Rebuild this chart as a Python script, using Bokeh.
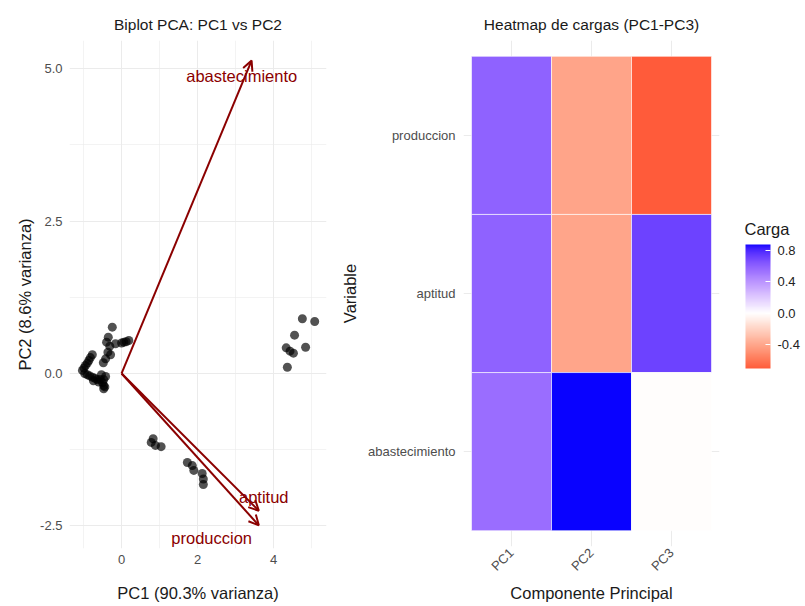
import math
from bokeh.plotting import figure
from bokeh.models import (ColumnDataSource, Arrow, OpenHead, FixedTicker, LinearColorMapper,
                          ColorBar, Range1d, FactorRange, PrintfTickFormatter)
from bokeh.layouts import row
from bokeh.embed import file_html
from bokeh.resources import INLINE
from bokeh.core.properties import value

# ---------------- data ----------------
score_pc1 = [-0.245, -0.35, -0.395, -0.31, -0.36, -0.29, -0.42, -0.48, -0.16, 0.06, 0.19,
             -0.77, -0.86, -0.95, -1.03, -0.90, -0.77, -0.64, -0.47, -0.47, -0.42,
             -0.82, -0.90, -0.99, -0.97, -0.84, -0.70, -0.56, -0.50, -0.44, -0.53, -0.47,
             0.12, 0.00, -0.74, -0.60,
             0.83, 0.78, 0.89, 1.04,
             1.73, 1.86, 1.90, 2.12, 2.15, 2.15,
             4.755, 5.08, 4.55, 4.84, 4.33, 4.43, 4.52, 4.36]
score_pc2 = [0.76, 0.595, 0.513, 0.448, 0.35, 0.307, 0.24, 0.175, 0.487, 0.513, 0.54,
             0.307, 0.213, 0.131, 0.05, -0.02, -0.06, -0.10, -0.10, -0.20, -0.05,
             0.26, 0.17, 0.09, 0.00, -0.04, -0.08, -0.10, -0.15, -0.22, -0.02, -0.25,
             0.52, 0.50, -0.12, -0.14,
             -1.07, -1.13, -1.18, -1.20,
             -1.46, -1.51, -1.59, -1.64, -1.73, -1.82,
             0.897, 0.852, 0.628, 0.43, 0.42, 0.366, 0.333, 0.103]

variables = ["produccion", "aptitud", "abastecimiento"]
arrow_pc1 = [3.61, 3.61, 3.42]
arrow_pc2 = [-2.49, -2.25, 5.13]
label_pc1 = [2.37, 3.74, 3.16]
label_pc2 = [-2.70, -2.03, 4.87]

components = ["PC1", "PC2", "PC3"]
loadings_pc1 = [0.59, 0.59, 0.55]
loadings_pc2 = [-0.41, -0.40, 0.87]
loadings_pc3 = [-0.70, 0.71, -0.01]

x_ticks = [0, 2, 4]
x_minor = [-1, 1, 3, 5]
y_ticks = [-2.5, 0.0, 2.5, 5.0]
y_minor = [-1.25, 1.25, 3.75]
legend_ticks = [-0.4, 0.0, 0.4, 0.8]
legend_title = "Carga"

FONT = "Liberation Sans"
GRID = "#EBEBEB"
TICK_C = "#4D4D4D"

# ---------------- colour helpers (ggplot gradient2 in Lab) ----------------
def hex_to_lab(h):
    r, g, b = [int(h[i:i + 2], 16) / 255 for i in (1, 3, 5)]
    lin = lambda c: c / 12.92 if c <= 0.04045 else ((c + 0.055) / 1.055) ** 2.4
    r, g, b = lin(r), lin(g), lin(b)
    X = 0.4124564 * r + 0.3575761 * g + 0.1804375 * b
    Y = 0.2126729 * r + 0.7151522 * g + 0.0721750 * b
    Z = 0.0193339 * r + 0.1191920 * g + 0.9503041 * b
    f = lambda t: t ** (1 / 3) if t > 216 / 24389 else (24389 / 27 * t + 16) / 116
    fx, fy, fz = f(X / 0.95047), f(Y), f(Z / 1.08883)
    return (116 * fy - 16, 500 * (fx - fy), 200 * (fy - fz))

def lab_to_hex(L, a, b):
    fy = (L + 16) / 116
    fx = fy + a / 500
    fz = fy - b / 200
    finv = lambda t: t ** 3 if t ** 3 > 216 / 24389 else (116 * t - 16) / (24389 / 27)
    X, Y, Z = finv(fx) * 0.95047, finv(fy), finv(fz) * 1.08883
    r = 3.2404542 * X - 1.5371385 * Y - 0.4985314 * Z
    g = -0.9692660 * X + 1.8760108 * Y + 0.0415560 * Z
    bb = 0.0556434 * X - 0.2040259 * Y + 1.0572252 * Z
    def gam(c):
        c = max(0.0, min(1.0, c))
        return 12.92 * c if c <= 0.0031308 else 1.055 * c ** (1 / 2.4) - 0.055
    return "#%02x%02x%02x" % tuple(int(round(gam(c) * 255)) for c in (r, g, bb))

low_lab, mid_lab, high_lab = hex_to_lab("#FF0000"), hex_to_lab("#FFFFFF"), hex_to_lab("#0000FF")
all_vals = loadings_pc1 + loadings_pc2 + loadings_pc3
vmin, vmax = min(all_vals), max(all_vals)
m = max(abs(vmin), abs(vmax))
N = 256
palette = []
for i in range(N):
    v = vmin + (vmax - vmin) * (i + 0.5) / N
    t = 0.5 + v / (2 * m)
    if t < 0.5:
        s = t / 0.5
        c = [low_lab[k] + (mid_lab[k] - low_lab[k]) * s for k in range(3)]
    else:
        s = (t - 0.5) / 0.5
        c = [mid_lab[k] + (high_lab[k] - mid_lab[k]) * s for k in range(3)]
    palette.append(lab_to_hex(*c))
mapper = LinearColorMapper(palette=palette, low=vmin, high=vmax)


def style(p):
    p.outline_line_color = None
    p.background_fill_color = "white"
    p.border_fill_color = "white"
    p.title.align = "center"
    p.title.text_font = FONT
    p.title.text_font_size = "15.5px"
    p.title.text_font_style = "normal"
    p.title.text_color = "#1A1A1A"
    p.title.standoff = 16
    for ax in p.axis:
        ax.axis_line_color = None
        ax.major_tick_line_color = None
        ax.minor_tick_line_color = None
        ax.major_tick_out = 0
        ax.major_tick_in = 0
        ax.minor_tick_out = 0
        ax.minor_tick_in = 0
        ax.major_label_text_font = FONT
        ax.major_label_text_font_size = "13px"
        ax.major_label_text_color = TICK_C
        ax.axis_label_text_font = FONT
        ax.axis_label_text_font_size = "16.5px"
        ax.axis_label_text_font_style = "normal"
        ax.axis_label_text_color = "#1A1A1A"
    for g in p.grid:
        g.grid_line_color = GRID
        g.grid_line_width = 1


# ---------------- left: biplot ----------------
p1 = figure(frame_width=257, frame_height=508,
            x_range=Range1d(-1.37, 5.39), y_range=Range1d(-2.87, 5.46),
            output_backend="svg", toolbar_location=None, title="Biplot PCA: PC1 vs PC2",
            min_border_left=69, min_border_right=12, min_border_top=40, min_border_bottom=57)
style(p1)
xt = FixedTicker(ticks=x_ticks, minor_ticks=x_minor)
yt = FixedTicker(ticks=y_ticks, minor_ticks=y_minor)
p1.xaxis.ticker = xt
p1.yaxis.ticker = yt
p1.xgrid.ticker = xt
p1.ygrid.ticker = yt
p1.xgrid.minor_grid_line_color = GRID
p1.ygrid.minor_grid_line_color = GRID
p1.xgrid.minor_grid_line_width = 0.6
p1.ygrid.minor_grid_line_width = 0.6
p1.yaxis.formatter = PrintfTickFormatter(format="%.1f")
p1.xaxis.axis_label = "PC1 (90.3% varianza)"
p1.yaxis.axis_label = "PC2 (8.6% varianza)"
p1.xaxis.major_label_standoff = 6
p1.xaxis.axis_label_standoff = 17
p1.yaxis.major_label_standoff = 7
p1.yaxis.axis_label_standoff = 3

p1.scatter(score_pc1, score_pc2, size=9, fill_color="black", fill_alpha=0.68, line_color=None)

arr_src = ColumnDataSource(dict(x0=[0] * len(variables), y0=[0] * len(variables),
                                x1=arrow_pc1, y1=arrow_pc2))
p1.add_layout(Arrow(source=arr_src, x_start="x0", y_start="y0", x_end="x1", y_end="y1",
                    line_color="#8B0000", line_width=2,
                    end=OpenHead(size=10, line_color="#8B0000", line_width=2)))
p1.text(x=label_pc1, y=label_pc2, text=variables, text_align="center", text_baseline="middle",
        text_color="#8B0000", text_font_size="16.5px", text_font=value(FONT))

# ---------------- right: heatmap ----------------
y_order = list(reversed(variables))
p2 = figure(frame_width=256, frame_height=506,
            x_range=FactorRange(factors=components, range_padding=0.1, range_padding_units="absolute"),
            y_range=FactorRange(factors=y_order, range_padding=0.1, range_padding_units="absolute"),
            output_backend="svg", toolbar_location=None, title="Heatmap de cargas (PC1-PC3)",
            min_border_left=125, min_border_right=8, min_border_top=40, min_border_bottom=59)
style(p2)
comp_col, var_col, val_col = [], [], []
for comp, vals in zip(components, [loadings_pc1, loadings_pc2, loadings_pc3]):
    for var, v in zip(variables, vals):
        comp_col.append(comp)
        var_col.append(var)
        val_col.append(v)
hm_src = ColumnDataSource(dict(comp=comp_col, var=var_col, val=val_col))
p2.rect(x="comp", y="var", width=1, height=1, source=hm_src,
        fill_color={"field": "val", "transform": mapper}, line_color="white", line_width=0.6)
p2.xaxis.axis_label = "Componente Principal"
p2.yaxis.axis_label = "Variable"
p2.xaxis.major_label_orientation = math.pi / 4
p2.xaxis.major_label_text_align = "center"
p2.xaxis.major_label_standoff = 4
p2.xaxis.axis_label_standoff = 2
p2.yaxis.major_label_standoff = 8
p2.yaxis.axis_label_standoff = 6

# ---------------- legend panel (frame aligned with the heatmap frame: y 40..546) ----------------
p3 = figure(width=77, height=605, x_range=Range1d(0, 77), y_range=Range1d(546, 40),
            x_axis_type=None, y_axis_type=None, output_backend="svg", toolbar_location=None,
            min_border=0)
p3.outline_line_color = None
p3.grid.visible = False
cb = ColorBar(color_mapper=mapper, ticker=FixedTicker(ticks=legend_ticks),
              formatter=PrintfTickFormatter(format="%.1f"),
              width=25, height=124, location=(12, 172), margin=0, padding=6,
              label_standoff=7,
              major_label_text_font=FONT, major_label_text_font_size="13px",
              major_label_text_color="#222222",
              major_tick_line_color="white", major_tick_in=5, major_tick_out=0,
              bar_line_color=None, border_line_color=None, background_fill_alpha=0)
p3.add_layout(cb, "center")
p3.text(x=[17], y=[228], text=[legend_title], text_align="left", text_baseline="middle",
        text_font=value(FONT), text_font_size="16.5px", text_color="#1A1A1A")

layout = row(p1, p2, p3)
open("out.html", "w").write(file_html(layout, INLINE))
